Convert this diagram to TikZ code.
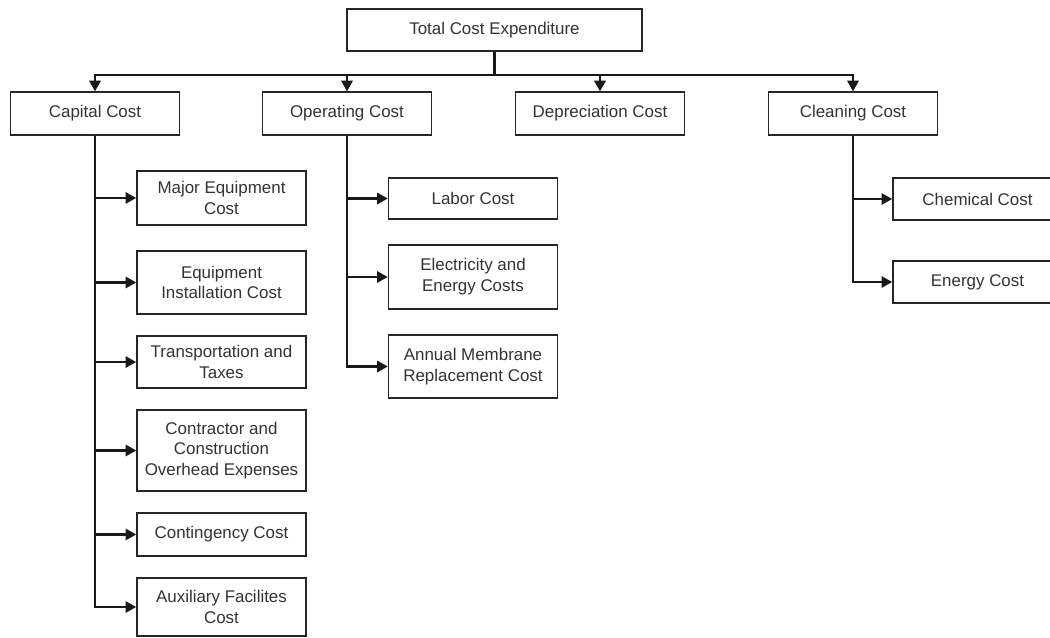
\documentclass[tikz,border=0pt]{standalone}
\usepackage{fontspec}
\setmainfont{Liberation Sans}
\usetikzlibrary{arrows.meta}
\definecolor{txt}{HTML}{333333}
\tikzset{
  box/.style={draw=black!85, line width=1.2pt, fill=white, text=txt, align=center,
    inner sep=0pt, font=\fontsize{12.7}{15.6}\selectfont, minimum width=126.75pt},
  conn/.style={draw=black!90, line width=1.6pt},
  arr/.style={conn, -{Triangle[length=8pt,width=8.5pt]}},
}
\begin{document}
\begin{tikzpicture}[x=0.75pt,y=-0.75pt]
\useasboundingbox[fill=white] (0,0) rectangle (1050,638);
\clip (0,0) rectangle (1050,638);
% top
\node[box, minimum width=221.25pt, minimum height=31.5pt] (total) at (494.5,30) {Total Cost Expenditure};
% level 2
\node[box, minimum height=32pt] (capital) at (95,113.5) {Capital Cost};
\node[box, minimum height=32pt] (operating) at (347,113.5) {Operating Cost};
\node[box, minimum height=32pt] (deprec) at (600,113.5) {Depreciation Cost};
\node[box, minimum height=32pt] (cleaning) at (853,113.5) {Cleaning Cost};
% capital children
\node[box, minimum height=40.5pt] (major) at (221.5,198) {Major Equipment\\Cost};
\node[box, minimum height=47.25pt] (install) at (221.5,282.5) {Equipment\\Installation Cost};
\node[box, minimum height=39pt] (transport) at (221.5,362) {Transportation and\\Taxes};
\node[box, minimum height=60.75pt] (contractor) at (221.5,450.5) {Contractor and\\Construction\\Overhead Expenses};
\node[box, minimum height=32.25pt] (conting) at (221.5,534.5) {Contingency Cost};
\node[box, minimum height=43.5pt] (aux) at (221.5,607) {Auxiliary Facilites\\Cost};
% operating children
\node[box, minimum height=31pt] (labor) at (473,198.5) {Labor Cost};
\node[box, minimum height=48pt] (elec) at (473,277) {Electricity and\\Energy Costs};
\node[box, minimum height=47.25pt] (membrane) at (473,366.5) {Annual Membrane\\Replacement Cost};
% cleaning children
\node[box, minimum height=31.5pt] (chem) at (977.5,199) {Chemical Cost};
\node[box, minimum height=31.5pt] (energy) at (977.5,282) {Energy Cost};
% connectors
\coordinate (bus) at (494.5,75);
\draw[conn] (total.south) -- (bus);
\draw[arr] (bus) -| (capital.north);
\draw[arr] (bus) -| (operating.north);
\draw[arr] (bus) -| (deprec.north);
\draw[arr] (bus) -| (cleaning.north);
\foreach \c in {major,install,transport,contractor,conting,aux}
  \draw[arr] (capital.south) |- (\c.west);
\foreach \c in {labor,elec,membrane}
  \draw[arr] (operating.south) |- (\c.west);
\foreach \c in {chem,energy}
  \draw[arr] (cleaning.south) |- (\c.west);
\end{tikzpicture}
\end{document}
